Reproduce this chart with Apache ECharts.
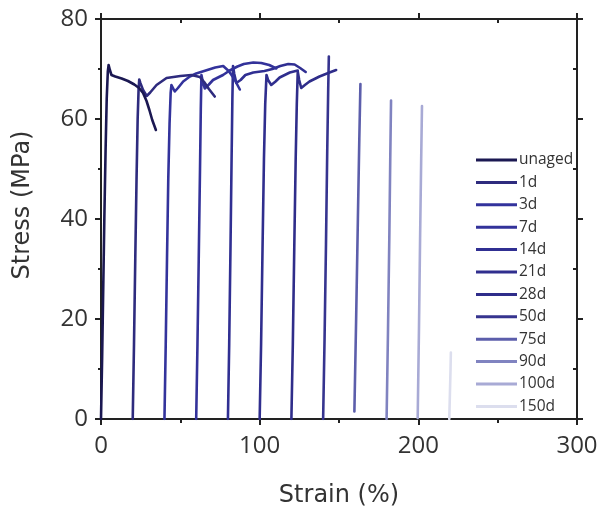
<!DOCTYPE html>
<html>
<head>
<meta charset="utf-8">
<script src="https://cdn.jsdelivr.net/npm/echarts@6/dist/echarts.min.js"></script>
<style>html,body{margin:0;padding:0;background:#fff}#c{width:601px;height:508px}</style>
</head>
<body>
<div id="c"></div>
<script>
// ---- data (strain %, stress MPa) ----
const seriesNames = ['unaged','1d','3d','7d','14d','21d','28d','50d','75d','90d','100d','150d'];
const xTicks = [0, 100, 200, 300];
const yTicks = [0, 20, 40, 60, 80];

const unaged = [[0,0],[0.7,12],[1.4,26],[2.1,40],[2.9,54],[3.6,64],[4.3,69.5],[4.8,70.8],[5.6,69.8],[6.6,68.8],[9,68.5],[13,68.1],[17,67.6],[21,66.9],[24,66.2],[26.5,65.2],[28.7,63.6],[30.5,61.8],[32.3,59.8],[34.6,57.8]];
const d1 = [[20,0],[20.8,15],[21.6,32],[22.4,48],[23.1,60],[23.7,66],[24.1,67.9],[24.8,67.2],[26.5,65.8],[28.8,64.6],[31,65.3],[35,66.8],[41.3,68.2],[50,68.6],[57,68.8],[62.3,68.4],[65,67.4],[68,66],[71.7,64.5]];
const d3 = [[40,0],[40.8,15],[41.6,32],[42.4,48],[43.2,59],[43.9,65.2],[44.4,66.8],[45.2,66.3],[46.5,65.5],[48.5,66.2],[51.8,67.5],[56,68.5],[60,69.1],[66,69.7],[72,70.3],[77,70.6],[80.5,69.6],[84,68],[87.5,65.9]];
const d7 = [[60,0],[60.8,15],[61.6,32],[62.4,50],[62.9,62],[63.3,68.8],[64.2,67.4],[65.4,66.1],[68,66.9],[70.6,67.8],[76.9,68.8],[81.1,69.7],[86,70.5],[90,71],[96,71.3],[101,71.2],[106,70.8],[110.5,70.1]];
const d14 = [[80,0],[80.8,15],[81.6,34],[82.3,52],[82.8,64],[83.2,70.6],[84,69],[85.3,67.2],[88,67.8],[91,68.8],[96,69.3],[103,69.6],[108,70],[113,70.6],[118,71],[122,70.9],[125.5,70.2],[129,69.4]];
const d21 = [[100,0],[100.9,15],[101.8,34],[102.7,52],[103.5,63],[104.3,68.8],[105.3,67.8],[107.3,66.8],[110,67.5],[112.6,68.3],[119,69.3],[124,69.7]];
const d28 = [[120,0],[120.9,15],[121.8,34],[122.7,52],[123.4,63],[124,69.5],[124.9,67.8],[126.2,66.2],[128.5,66.8],[131.4,67.5],[137.7,68.5],[144,69.3],[148.2,69.8]];
const d50 = [[140,0],[140.9,16],[141.8,35],[142.6,54],[143.2,66],[143.6,72.5]];
const d75 = [[159.7,1.5],[160.8,20],[161.9,40],[162.8,56],[163.5,67]];
const d90 = [[180,0],[180.9,18],[181.7,36],[182.3,52],[182.8,63.7]];
const d100 = [[199.6,0.2],[200.4,18],[201.1,36],[201.8,52],[202.3,62.6]];
const d150 = [[219.5,0],[219.9,5],[220.3,10],[220.5,13.3]];
const seriesData = [unaged,d1,d3,d7,d14,d21,d28,d50,d75,d90,d100,d150];

// ---- styles ----
const colors = ['#1b1852','#2e2b7e','#33339c','#33329a','#302f92','#302e8e','#2f2d8a','#36348f','#5c5eab','#8083c0','#a8aad5','#dcdeee'];
const FONT = 'Open Sans';
const NAMEFONT = 'DejaVu Sans';
const AX = '#222';

const chart = echarts.init(document.getElementById('c'), null, {renderer:'canvas'});
const series = seriesNames.map((n,i)=>({
  name:n, type:'line', data:seriesData[i], showSymbol:false, symbol:'none',
  xAxisIndex:0, yAxisIndex:0, z: 20 - i,
  lineStyle:{color:colors[i], width:2.6, join:'round', cap:'round'},
  itemStyle:{color:colors[i]}, animation:false
}));

const baseX = {type:'value', min:xTicks[0], max:xTicks[xTicks.length-1], interval:100, splitLine:{show:false}};
const baseY = {type:'value', min:yTicks[0], max:yTicks[yTicks.length-1], interval:20, splitLine:{show:false}};

chart.setOption({
  animation:false,
  backgroundColor:'#fff',
  grid:{left:101, right:24, top:19, bottom:89, containLabel:false, outerBoundsMode:'none'},
  legend:{
    orient:'vertical', left:471, top:147, itemWidth:41, itemHeight:3, icon:'rect',
    itemGap:6.4, data:seriesNames,
    textStyle:{fontFamily:FONT, fontSize:15.5, color:'#333', lineHeight:16, padding:[0,0,0,-3]}
  },
  xAxis:[
    Object.assign({}, baseX, {
      position:'bottom', name:'Strain (%)', nameLocation:'middle', nameGap:65,
      nameTextStyle:{fontFamily:NAMEFONT, fontSize:24, color:'#333'},
      axisLine:{show:true, onZero:false, lineStyle:{color:AX, width:2}},
      axisTick:{show:true, inside:false, length:6, lineStyle:{color:AX, width:2}},
      minorTick:{show:true, splitNumber:2, length:4, lineStyle:{color:AX, width:2}},
      axisLabel:{fontFamily:FONT, fontSize:24, color:'#333', margin:15}
    }),
    Object.assign({}, baseX, {
      position:'top',
      axisLine:{show:true, onZero:false, lineStyle:{color:AX, width:2}},
      axisTick:{show:true, inside:false, length:6, lineStyle:{color:AX, width:2}},
      axisLabel:{show:false}
    }),
    Object.assign({}, baseX, {
      position:'top',
      axisLine:{show:false, onZero:false},
      axisTick:{show:true, inside:true, length:4, customValues:[50,150,250], lineStyle:{color:AX, width:2}},
      axisLabel:{show:false}
    })
  ],
  yAxis:[
    Object.assign({}, baseY, {
      position:'left', name:'Stress (MPa)', nameLocation:'middle', nameGap:66,
      nameTextStyle:{fontFamily:NAMEFONT, fontSize:24, color:'#333', padding:[0,0,0,28]},
      axisLine:{show:true, onZero:false, lineStyle:{color:AX, width:2}},
      axisTick:{show:true, inside:false, length:6, lineStyle:{color:AX, width:2}},
      minorTick:{show:true, splitNumber:2, length:3, lineStyle:{color:AX, width:2}},
      axisLabel:{fontFamily:FONT, fontSize:24, color:'#333', margin:13}
    }),
    Object.assign({}, baseY, {
      position:'right',
      axisLine:{show:true, onZero:false, lineStyle:{color:AX, width:2}},
      axisTick:{show:true, inside:false, length:6, lineStyle:{color:AX, width:2}},
      axisLabel:{show:false}
    }),
    Object.assign({}, baseY, {
      position:'right',
      axisLine:{show:false, onZero:false},
      axisTick:{show:true, inside:true, length:4, customValues:[10,30,50,70], lineStyle:{color:AX, width:2}},
      axisLabel:{show:false}
    })
  ],
  series:series
});
</script>
</body>
</html>
